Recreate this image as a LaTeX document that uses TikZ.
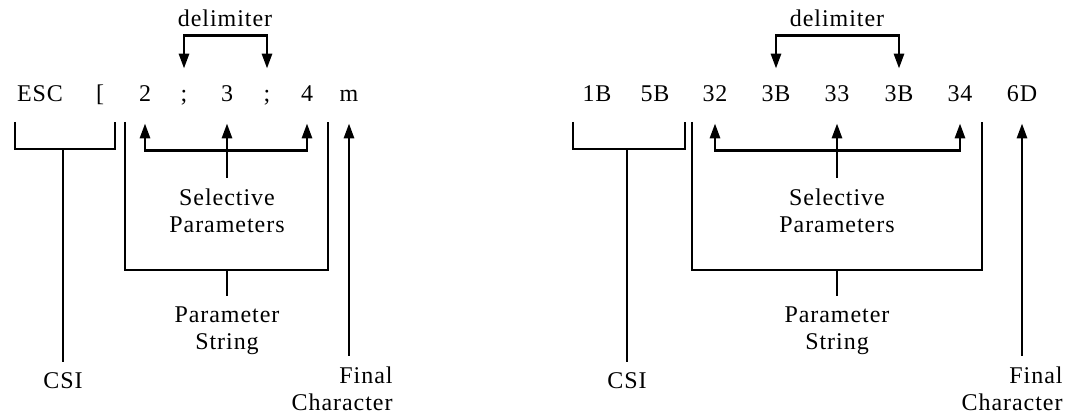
\documentclass[tikz,border=0pt]{standalone}
\usepackage{fontspec}
\setmainfont{Liberation Serif}[LetterSpace=4]
\usetikzlibrary{arrows.meta}

\begin{document}
\begin{tikzpicture}[x=1pt,y=-1pt,line width=2.8pt,font=\fontsize{24}{27}\selectfont,
  >={Triangle[length=15pt,width=10pt]},
  tok/.style={anchor=base,inner xsep=0pt,inner ysep=15pt,text height=17pt,text depth=5pt},
  lbl/.style={align=center,inner xsep=0pt,inner ysep=10pt}]
  \useasboundingbox (0,0) rectangle (1071,419);
  % escape sequence as characters
  \node[tok] (esc) at (40,102) {ESC};
  \node[tok] (lbr) at (100,102) {[};
  \node[tok] (pa) at (145,102) {2};
  \node[tok] (sa) at (184,102) {;};
  \node[tok] (pb) at (227,102) {3};
  \node[tok] (sb) at (267,102) {;};
  \node[tok] (pc) at (307,102) {4};
  \node[tok] (fin) at (349,102) {m};
  \node (dlm) at (225,18) {delimiter};
  \node[lbl] (sel) at (227,211) {Selective\\Parameters};
  \node[lbl] (par) at (227,331) {Parameter\\String};
  \node[lbl] (csi) at (63,381) {CSI};
  \node[lbl,align=right,anchor=east] (fch) at (394,389) {Final\\Character};
  \coordinate (csitop) at (63,149);
  \coordinate (partop) at (227,270);
  \draw[<->] (sa.north) -- ++(0,-33) -| (sb.north);
  \draw[<->] (pa.south) -- ++(0,27) -| (pc.south);
  \draw[->] (sel.north) -- (pb.south);
  \draw (15,122) |- (115,149) -- (115,122);
  \draw (csitop) -- (csi.north);
  \draw (125,122) |- (328,270) -- (328,122);
  \draw (partop) -- (par.north);
  \draw[->] (fch.north -| fin) -- (fin.south);
  % same sequence in hex
  \node[tok] (hesc) at (597,102) {1B};
  \node[tok] (hlbr) at (655,102) {5B};
  \node[tok] (hpa) at (715,102) {32};
  \node[tok] (hsa) at (776,102) {3B};
  \node[tok] (hpb) at (837,102) {33};
  \node[tok] (hsb) at (899,102) {3B};
  \node[tok] (hpc) at (960,102) {34};
  \node[tok] (hfin) at (1022,102) {6D};
  \node (hdlm) at (837,18) {delimiter};
  \node[lbl] (hsel) at (837,211) {Selective\\Parameters};
  \node[lbl] (hpar) at (837,331) {Parameter\\String};
  \node[lbl] (hcsi) at (627,381) {CSI};
  \node[lbl,align=right,anchor=east] (hfch) at (1064,389) {Final\\Character};
  \coordinate (hcsitop) at (627,149);
  \coordinate (hpartop) at (837,270);
  \draw[<->] (hsa.north) -- ++(0,-33) -| (hsb.north);
  \draw[<->] (hpa.south) -- ++(0,27) -| (hpc.south);
  \draw[->] (hsel.north) -- (hpb.south);
  \draw (573,122) |- (685,149) -- (685,122);
  \draw (hcsitop) -- (hcsi.north);
  \draw (692,122) |- (982,270) -- (982,122);
  \draw (hpartop) -- (hpar.north);
  \draw[->] (hfch.north -| hfin) -- (hfin.south);
\end{tikzpicture}
\end{document}
